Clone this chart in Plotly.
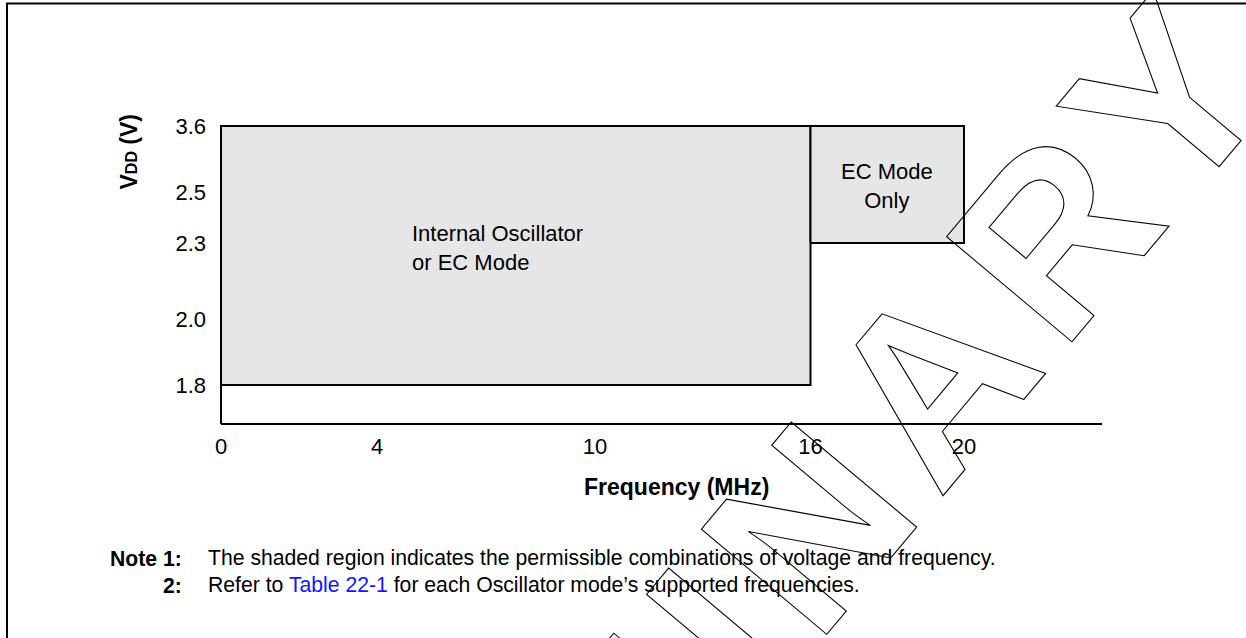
import numpy as np
import plotly.graph_objects as go

# ---------------- data ----------------
FREQ_TICKS = [0, 4, 10, 16, 20]            # MHz
FREQ_LABELS = ["0", "4", "10", "16", "20"]
VDD_TICKS = [1.8, 2.0, 2.3, 2.5, 3.6]      # V
VDD_LABELS = ["1.8", "2.0", "2.3", "2.5", "3.6"]

REGION_NAMES = ["Internal Oscillator<br>or EC Mode", "EC Mode<br>Only"]
REGION_F_MIN = [0, 16]
REGION_F_MAX = [16, 20]
REGION_V_MIN = [1.8, 2.3]
REGION_V_MAX = [3.6, 3.6]

NOTE_1 = "The shaded region indicates the permissible combinations of voltage and frequency."
NOTE_2 = ("Refer to <span style='color:#1414ff'>Table 22-1</span> "
          "for each Oscillator mode\u2019s supported frequencies.")
WATERMARK = "PRELIMINARY"

# ---------------- schematic (not-to-scale) axes ----------------
# The datasheet figure is drawn not to scale: each tick sits at its own offset.
FREQ_SCALE = [0, 156, 374, 589.5, 743]
VDD_SCALE = [39, 104.5, 181, 232, 298]
X_AXIS_END = 881


def fx(f):
    return np.interp(f, FREQ_TICKS, FREQ_SCALE)


def fy(v):
    return np.interp(v, VDD_TICKS, VDD_SCALE)


W, H = 1246, 638
ML, MR, MT, MB = 211, 134, 95, 204
PW, PH = W - ML - MR, H - MT - MB


def xp(px):
    return (px - ML) / PW


def yp(py):
    return (H - MB - py) / PH


FONT = "Liberation Sans, Arial, Helvetica, sans-serif"
GRAY = "#e6e6e6"

fig = go.Figure()

# shaded regions
for name, f0, f1, v0, v1 in zip(REGION_NAMES, REGION_F_MIN, REGION_F_MAX,
                                REGION_V_MIN, REGION_V_MAX):
    xs = fx([f0, f1, f1, f0, f0])
    ys = fy([v0, v0, v1, v1, v0])
    fig.add_trace(go.Scatter(x=xs, y=ys, mode="lines", fill="toself",
                             fillcolor=GRAY, line=dict(color="black", width=2),
                             name=name.replace("<br>", " "), hoverinfo="name",
                             showlegend=False))

# axis lines
fig.add_trace(go.Scatter(x=[0, X_AXIS_END], y=[0, 0], mode="lines",
                         line=dict(color="black", width=2), hoverinfo="skip",
                         showlegend=False))
fig.add_trace(go.Scatter(x=[0, 0], y=[0, fy(VDD_TICKS[-1])], mode="lines",
                         line=dict(color="black", width=2), hoverinfo="skip",
                         showlegend=False))

fig.update_xaxes(range=[-10, PW - 10], tickvals=fx(FREQ_TICKS), ticktext=FREQ_LABELS,
                 showgrid=False, zeroline=False, showline=False, ticks="",
                 ticklabelstandoff=-3,
                 tickfont=dict(family=FONT, size=22, color="black"), fixedrange=True)
fig.update_yaxes(range=[-10, PH - 10], tickvals=fy(VDD_TICKS), ticktext=VDD_LABELS,
                 showgrid=False, zeroline=False, showline=False, ticks="",
                 ticklabelstandoff=4,
                 tickfont=dict(family=FONT, size=22, color="black"), fixedrange=True)

ann = []
# region labels
ann.append(dict(text=REGION_NAMES[0], xref="paper", yref="paper", x=xp(410), y=yp(247.5),
                xanchor="left", yanchor="middle", align="left", showarrow=False,
                font=dict(family=FONT, size=22, color="black")))
ann.append(dict(text=REGION_NAMES[1], xref="paper", yref="paper", x=xp(887), y=yp(186),
                xanchor="center", yanchor="middle", align="center", showarrow=False,
                font=dict(family=FONT, size=22, color="black")))
# axis titles
ann.append(dict(text="<b>Frequency (MHz)</b>", xref="paper", yref="paper",
                x=xp(676.5), y=yp(487), xanchor="center", yanchor="middle",
                showarrow=False, font=dict(family=FONT, size=23, color="black")))
ann.append(dict(text="<b>V<span style='font-size:16px'>DD</span> (V)</b>", xref="paper",
                yref="paper", x=xp(128), y=yp(151.5), xanchor="center", yanchor="middle",
                textangle=-90, showarrow=False, font=dict(family=FONT, size=23, color="black")))
# notes
ann.append(dict(text="<b>Note 1:</b>", xref="paper", yref="paper", x=xp(184), y=yp(558),
                xanchor="right", yanchor="middle", showarrow=False,
                font=dict(family=FONT, size=21.2, color="black")))
ann.append(dict(text=NOTE_1, xref="paper", yref="paper", x=xp(206), y=yp(558),
                xanchor="left", yanchor="middle", showarrow=False,
                font=dict(family=FONT, size=21.2, color="black")))
ann.append(dict(text="<b>2:</b>", xref="paper", yref="paper", x=xp(184), y=yp(585),
                xanchor="right", yanchor="middle", showarrow=False,
                font=dict(family=FONT, size=21.2, color="black")))
ann.append(dict(text=NOTE_2, xref="paper", yref="paper", x=xp(206), y=yp(585),
                xanchor="left", yanchor="middle", showarrow=False,
                font=dict(family=FONT, size=21.2, color="black")))
# outlined watermark (letter-spaced, see post script)
ann.append(dict(text=WATERMARK, xref="paper", yref="paper", x=xp(638), y=yp(730),
                xanchor="center", yanchor="middle", textangle=-50, showarrow=False,
                font=dict(family=FONT, size=238, color="black", weight="bold")))

# page frame
shapes = [dict(type="rect", xref="paper", yref="paper", x0=xp(7), x1=xp(1300),
               y0=yp(700), y1=yp(3.5), line=dict(color="black", width=2),
               fillcolor="rgba(0,0,0,0)", layer="above")]

fig.update_layout(width=W, height=H, margin=dict(l=ML, r=MR, t=MT, b=MB, pad=0),
                  paper_bgcolor="white", plot_bgcolor="white", showlegend=False,
                  annotations=ann, shapes=shapes, hovermode=False)

post = """
(function(){
  document.body.style.margin = '0';
  document.body.style.padding = '0';
  document.documentElement.style.overflow = 'hidden';
  var gd = document.getElementById('{plot_id}');
  function outline(){
    var nodes = gd.querySelectorAll('g.annotation text');
    nodes.forEach(function(n){
      if (n.textContent === 'PRELIMINARY') {
        n.style.fill = 'none';
        n.style.fillOpacity = '0';
        n.style.stroke = '#000';
        n.style.strokeWidth = '1.1px';
        n.style.letterSpacing = '19px';
      }
    });
  }
  outline();
  if (gd.on) { gd.on('plotly_afterplot', outline); }
  setTimeout(outline, 30);
  setTimeout(outline, 300);
})();
"""

fig.write_html("out.html", config={"displayModeBar": False}, post_script=post)
